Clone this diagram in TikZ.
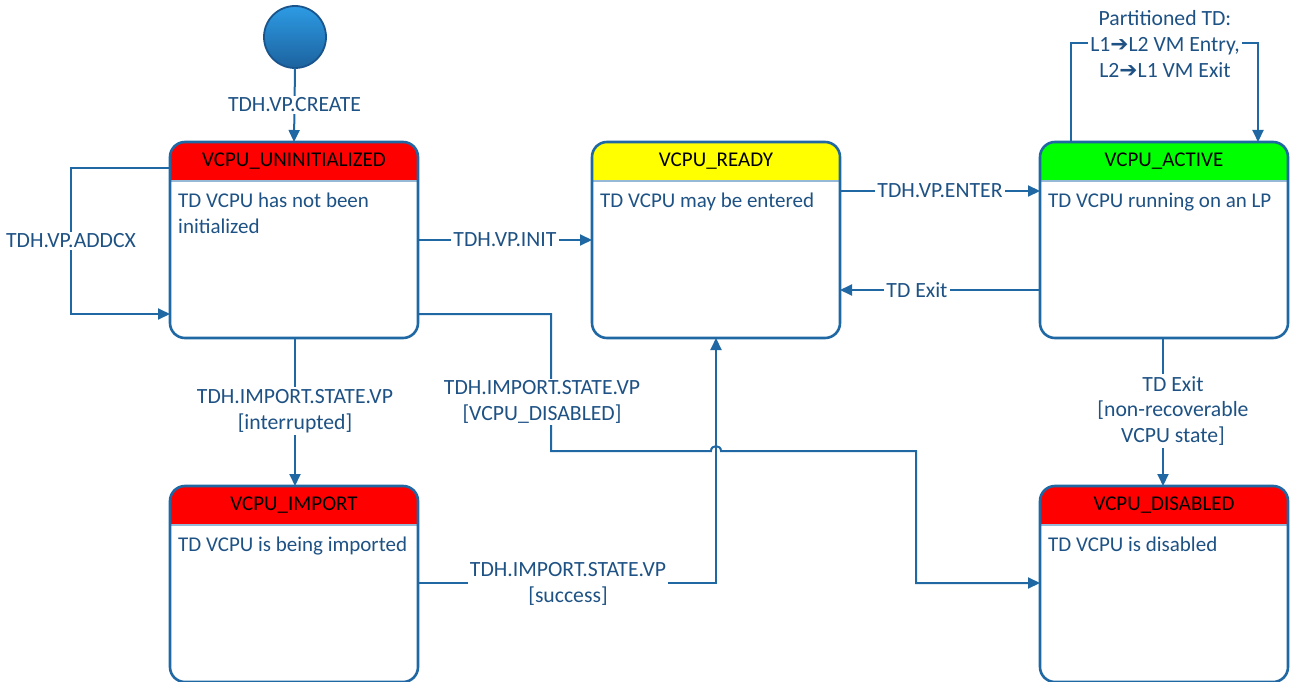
\documentclass[tikz,border=0pt]{standalone}
\usepackage{fontspec}
\setmainfont{Carlito}
\newfontfamily\symfont{DejaVu Sans}
\usetikzlibrary{arrows.meta}
\definecolor{lnc}{RGB}{31,104,163}
\definecolor{txc}{RGB}{30,82,132}
\definecolor{sepc}{RGB}{150,185,215}
\definecolor{hred}{RGB}{255,0,0}
\definecolor{hyellow}{RGB}{255,255,0}
\definecolor{hgreen}{RGB}{0,255,0}
\tikzset{
  every node/.style={font=\fontsize{21}{25.5}\selectfont},
  conn/.style={draw=lnc, line width=2pt},
  arr/.style={conn, -{Triangle[length=12pt,width=11pt]}},
  lbl/.style={fill=white, text=txc, inner sep=2pt, align=center, font=\fontsize{21.7}{25.8}\selectfont},
  statebody/.style={minimum width=248pt, minimum height=196pt, inner sep=0pt, outer sep=0pt},
  stateborder/.style={draw=lnc, line width=2.6pt, rounded corners=15pt},
  statetitle/.style={text=black, inner sep=0pt},
  statetext/.style={text=txc, inner sep=0pt, align=left, anchor=north west},
}
\newcommand\statebox[6]{%
  \node[statebody] (#1) at (#2,#3) {};
  \begin{scope}
    \clip[rounded corners=15pt] (#1.north west) rectangle (#1.south east);
    \fill[#4] (#1.north west) rectangle ([yshift=-39pt]#1.north east);
  \end{scope}
  \draw[sepc, line width=1.5pt] ([yshift=-39pt]#1.north west) -- ([yshift=-39pt]#1.north east);
  \node[statetitle] (#1-title) at ([yshift=-19.5pt]#1.north) {#5};
  \node[statetext] (#1-text) at ([xshift=8pt,yshift=-51pt]#1.north west) {#6};
  \draw[stateborder] (#1.north west) rectangle (#1.south east);
}
\begin{document}
\begin{tikzpicture}[x=1pt,y=-1pt]
\useasboundingbox (0,0) rectangle (1290,682);

% initial state
\node[circle, minimum size=62pt, inner sep=0pt, outer sep=0pt,
      top color={rgb,255:red,45;green,155;blue,228}, bottom color={rgb,255:red,28;green,98;blue,158},
      draw={rgb,255:red,25;green,85;blue,140}, line width=1.8pt] (start) at (295,37) {};

% states
\statebox{uninit}{294}{240}{hred}{VCPU\_UNINITIALIZED}{TD VCPU has not been\\initialized}
\statebox{ready}{716}{240}{hyellow}{VCPU\_READY}{TD VCPU may be entered}
\statebox{active}{1164}{240}{hgreen}{VCPU\_ACTIVE}{TD VCPU running on an LP}
\statebox{import}{294}{584}{hred}{VCPU\_IMPORT}{TD VCPU is being imported}
\statebox{disabled}{1164}{584}{hred}{VCPU\_DISABLED}{TD VCPU is disabled}

% connectors
\draw[arr] (start.south) -- node[lbl] (l-create) {TDH.VP.CREATE} (uninit.north);

\draw[arr] (uninit.west |- 0,168) -- (71,168) -- node[lbl] (l-addcx) {TDH.VP.ADDCX} (71,314) -- (uninit.west |- 0,314);

\draw[arr] (uninit.east) -- node[lbl] (l-init) {TDH.VP.INIT} (ready.west);

\draw[arr] (ready.east |- 0,191) -- node[lbl] (l-enter) {TDH.VP.ENTER} (active.west |- 0,191);

\draw[arr] (active.west |- 0,290) -- node[lbl, pos=0.615] (l-exit) {TD Exit} (ready.east |- 0,290);

\draw[arr] (active.north -| 1071,0) -- (1071,43) -- (1258,43) -- (active.north -| 1258,0);
\node[lbl] (l-part) at (1165,44) {Partitioned TD:\\L1{\symfont ➔}L2 VM Entry,\\L2{\symfont ➔}L1 VM Exit};

\draw[arr] (active.south -| 1163,0) -- (disabled.north -| 1163,0);
\node[lbl] (l-exit2) at (1173,411) {TD Exit\\{[}non-recoverable\\VCPU state{]}};

\draw[arr] (uninit.south -| 295,0) -- (import.north -| 295,0);
\node[lbl] (l-intr) at (295,411) {TDH.IMPORT.STATE.VP\\{[}interrupted{]}};

\draw[arr] (uninit.east |- 0,314) -- (551,314) -- (551,451) -- (711,451)
  .. controls (711,444.5) and (721,444.5) .. (721,451) -- (916,451) -- (916,583) -- (disabled.west |- 0,583);
\node[lbl] (l-dis) at (542,402) {TDH.IMPORT.STATE.VP\\{[}VCPU\_DISABLED{]}};

\draw[arr] (import.east |- 0,583) -- (716,583) -- (ready.south);
\node[lbl] (l-succ) at (568,584) {TDH.IMPORT.STATE.VP\\{[}success{]}};
\end{tikzpicture}
\end{document}
